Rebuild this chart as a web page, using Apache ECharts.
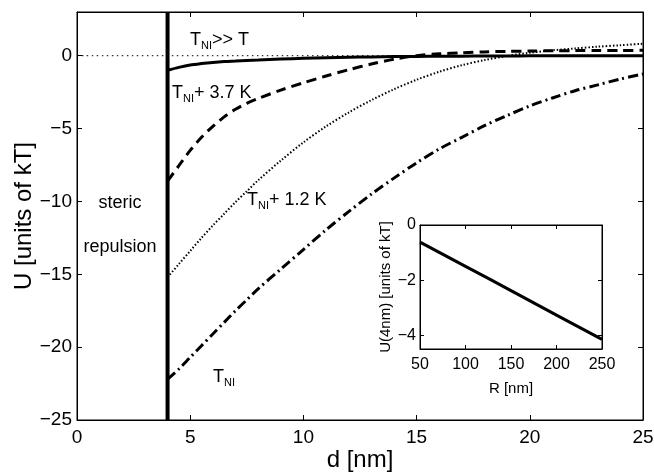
<!DOCTYPE html>
<html><head><meta charset="utf-8">
<script src="https://cdn.jsdelivr.net/npm/echarts@6/dist/echarts.min.js"></script>
<style>html,body{margin:0;padding:0;background:#fff}#c{width:654px;height:473px}</style>
</head><body><div id="c"></div>
<script>
// ---- data ----
const dValues   = [4, 4.5, 5, 5.5, 6, 6.5, 7, 7.5, 8, 9, 10, 11, 12, 13, 14, 15, 16, 17, 18, 19, 20, 21, 22, 23, 24, 25];
const uFarAbove = [-1.0, -0.8, -0.64, -0.54, -0.46, -0.4, -0.36, -0.32, -0.29, -0.23, -0.18, -0.14, -0.11, -0.08, -0.06, -0.05, -0.04, -0.03, -0.02, -0.015, -0.01, -0.008, -0.006, -0.004, -0.002, 0];
const uPlus37   = [-8.6, -7.55, -6.5, -5.6, -4.85, -4.2, -3.68, -3.27, -2.94, -2.36, -1.86, -1.39, -0.96, -0.57, -0.24, 0.0, 0.13, 0.2, 0.26, 0.3, 0.32, 0.34, 0.35, 0.36, 0.36, 0.37];
const uPlus12   = [-15.2, -14.3, -13.4, -12.5, -11.65, -10.85, -10.05, -9.3, -8.55, -7.2, -5.95, -4.85, -3.9, -3.05, -2.3, -1.65, -1.1, -0.65, -0.3, -0.02, 0.2, 0.37, 0.5, 0.62, 0.72, 0.82];
const uTNI      = [-22.2, -21.5, -20.7, -19.9, -19.1, -18.3, -17.5, -16.75, -16.0, -14.65, -13.3, -11.95, -10.7, -9.5, -8.4, -7.35, -6.4, -5.6, -4.8, -4.1, -3.45, -2.9, -2.4, -2.0, -1.6, -1.25];
const wallD     = [4, 4];
const wallU     = [-25, 3];
const zeroD     = [0, 25];
const zeroU     = [0, 0];
const insetR    = [50, 100, 150, 200, 250];
const insetU    = [-0.62, -1.5, -2.38, -3.27, -4.15];
const mainXTicks  = [0, 5, 10, 15, 20, 25];
const mainYTicks  = [-25, -20, -15, -10, -5, 0];
const insetXTicks = [50, 100, 150, 200, 250];
const insetYTicks = [-4, -2, 0];

const FONT = 'Liberation Sans, Arial, Helvetica, sans-serif';
const zip = (a, b) => a.map((v, i) => [v, b[i]]);
const minus = v => String(v).replace('-', '\u2212');

const chart = echarts.init(document.getElementById('c'), null, {renderer: 'canvas'});

const axisBase = (extra) => Object.assign({
  type: 'value',
  axisLine: {show: true, onZero: false, lineStyle: {color: '#000', width: 1}},
  splitLine: {show: false},
}, extra);

const lineS = (name, data, style, xi, yi) => ({
  name, type: 'line', data, xAxisIndex: xi, yAxisIndex: yi,
  showSymbol: false, symbol: 'none', smooth: 0.3, silent: true,
  lineStyle: Object.assign({color: '#000', cap: 'butt'}, style)
});

chart.setOption({
  animation: false,
  backgroundColor: '#fff',
  grid: [
    {left: 77, top: 12, width: 566, height: 408, show: true, backgroundColor: 'transparent', borderColor: '#000', borderWidth: 1, outerBoundsMode: 'none'},
    {left: 420, top: 225, width: 182, height: 124, show: true, backgroundColor: '#fff', borderColor: '#000', borderWidth: 1, outerBoundsMode: 'none'}
  ],
  xAxis: [
    axisBase({gridIndex: 0, position: 'bottom', min: 0, max: 25, interval: 5,
      axisTick: {show: true, inside: true, length: 5, lineStyle: {color: '#000'}, customValues: mainXTicks},
      axisLabel: {show: true, margin: 8, fontFamily: FONT, fontSize: 19, color: '#000', customValues: mainXTicks, formatter: minus}}),
    axisBase({gridIndex: 0, position: 'top', min: 0, max: 25, interval: 5,
      axisTick: {show: true, inside: true, length: 5, lineStyle: {color: '#000'}, customValues: mainXTicks},
      axisLabel: {show: false, customValues: mainXTicks}}),
    axisBase({gridIndex: 1, position: 'bottom', min: 50, max: 250, interval: 50,
      name: 'R [nm]', nameLocation: 'middle', nameGap: 32,
      nameTextStyle: {fontFamily: FONT, fontSize: 15, color: '#000'},
      axisTick: {show: true, inside: true, length: 4, lineStyle: {color: '#000'}, customValues: insetXTicks},
      axisLabel: {show: true, margin: 8, fontFamily: FONT, fontSize: 16, color: '#000', customValues: insetXTicks}}),
    axisBase({gridIndex: 1, position: 'top', min: 50, max: 250, interval: 50,
      axisTick: {show: true, inside: true, length: 4, lineStyle: {color: '#000'}, customValues: insetXTicks},
      axisLabel: {show: false, customValues: insetXTicks}})
  ],
  yAxis: [
    axisBase({gridIndex: 0, position: 'left', min: -25, max: 3,
      axisTick: {show: true, inside: true, length: 5, lineStyle: {color: '#000'}, customValues: mainYTicks},
      axisLabel: {show: true, margin: 5, fontFamily: FONT, fontSize: 19, color: '#000', customValues: mainYTicks, formatter: minus}}),
    axisBase({gridIndex: 1, position: 'left', min: -4.5, max: 0,
      name: 'U(4nm) [units of kT]', nameLocation: 'middle', nameGap: 25,
      nameTextStyle: {fontFamily: FONT, fontSize: 15, color: '#000'},
      axisTick: {show: true, inside: true, length: 4, lineStyle: {color: '#000'}, customValues: insetYTicks},
      axisLabel: {show: true, margin: 4, fontFamily: FONT, fontSize: 16, color: '#000', customValues: insetYTicks, formatter: minus}}),
    axisBase({gridIndex: 0, position: 'right', min: -25, max: 3,
      axisTick: {show: true, inside: true, length: 5, lineStyle: {color: '#000'}, customValues: mainYTicks},
      axisLabel: {show: false, customValues: mainYTicks}}),
    axisBase({gridIndex: 1, position: 'right', min: -4.5, max: 0,
      axisTick: {show: true, inside: true, length: 4, lineStyle: {color: '#000'}, customValues: insetYTicks},
      axisLabel: {show: false, customValues: insetYTicks}})
  ],
  series: [
    lineS('zero', zip(zeroD, zeroU), {width: 1, type: [1.5, 3.5]}, 0, 0),
    lineS('TNI >> T', zip(dValues, uFarAbove), {width: 3}, 0, 0),
    lineS('TNI + 3.7 K', zip(dValues, uPlus37), {width: 3, type: [10, 6]}, 0, 0),
    lineS('TNI + 1.2 K', zip(dValues, uPlus12), {width: 2, type: [1.5, 2]}, 0, 0),
    lineS('TNI', zip(dValues, uTNI), {width: 3, type: [10, 4, 2, 4]}, 0, 0),
    lineS('wall', zip(wallD, wallU), {width: 4}, 0, 0),
    lineS('inset', zip(insetR, insetU), {width: 3}, 2, 1)
  ],
  graphic: [
    {type: 'text', x: 24, y: 216, rotation: Math.PI / 2, silent: true, style: {text: 'U [units of kT]', align: 'center', verticalAlign: 'middle', fontFamily: FONT, fontSize: 24, fill: '#000'}},
    {type: 'text', x: 360, y: 460, silent: true, style: {text: 'd [nm]', align: 'center', verticalAlign: 'middle', fontFamily: FONT, fontSize: 24, fill: '#000'}},
    {type: 'text', x: 190, y: 40, silent: true, style: {text: '{a|T}{s|NI}{a|>> T}', verticalAlign: 'middle', fill: '#000',
      rich: {a: {fontFamily: FONT, fontSize: 18, fill: '#000'}, s: {fontFamily: FONT, fontSize: 11, fill: '#000', padding: [12, 0, 0, 0]}}}},
    {type: 'text', x: 172, y: 93, silent: true, style: {text: '{a|T}{s|NI}{a|+ 3.7 K}', verticalAlign: 'middle', fill: '#000',
      rich: {a: {fontFamily: FONT, fontSize: 18, fill: '#000'}, s: {fontFamily: FONT, fontSize: 11, fill: '#000', padding: [12, 0, 0, 0]}}}},
    {type: 'text', x: 247, y: 200, silent: true, style: {text: '{a|T}{s|NI}{a|+ 1.2 K}', verticalAlign: 'middle', fill: '#000',
      rich: {a: {fontFamily: FONT, fontSize: 18, fill: '#000'}, s: {fontFamily: FONT, fontSize: 11, fill: '#000', padding: [12, 0, 0, 0]}}}},
    {type: 'text', x: 213, y: 377, silent: true, style: {text: '{a|T}{s|NI}', verticalAlign: 'middle', fill: '#000',
      rich: {a: {fontFamily: FONT, fontSize: 18, fill: '#000'}, s: {fontFamily: FONT, fontSize: 11, fill: '#000', padding: [12, 0, 0, 0]}}}},
    {type: 'text', x: 120, y: 203, silent: true, style: {text: 'steric', align: 'center', verticalAlign: 'middle', fontFamily: FONT, fontSize: 18, fill: '#000'}},
    {type: 'text', x: 120, y: 247, silent: true, style: {text: 'repulsion', align: 'center', verticalAlign: 'middle', fontFamily: FONT, fontSize: 18, fill: '#000'}}
  ]
});
</script></body></html>
